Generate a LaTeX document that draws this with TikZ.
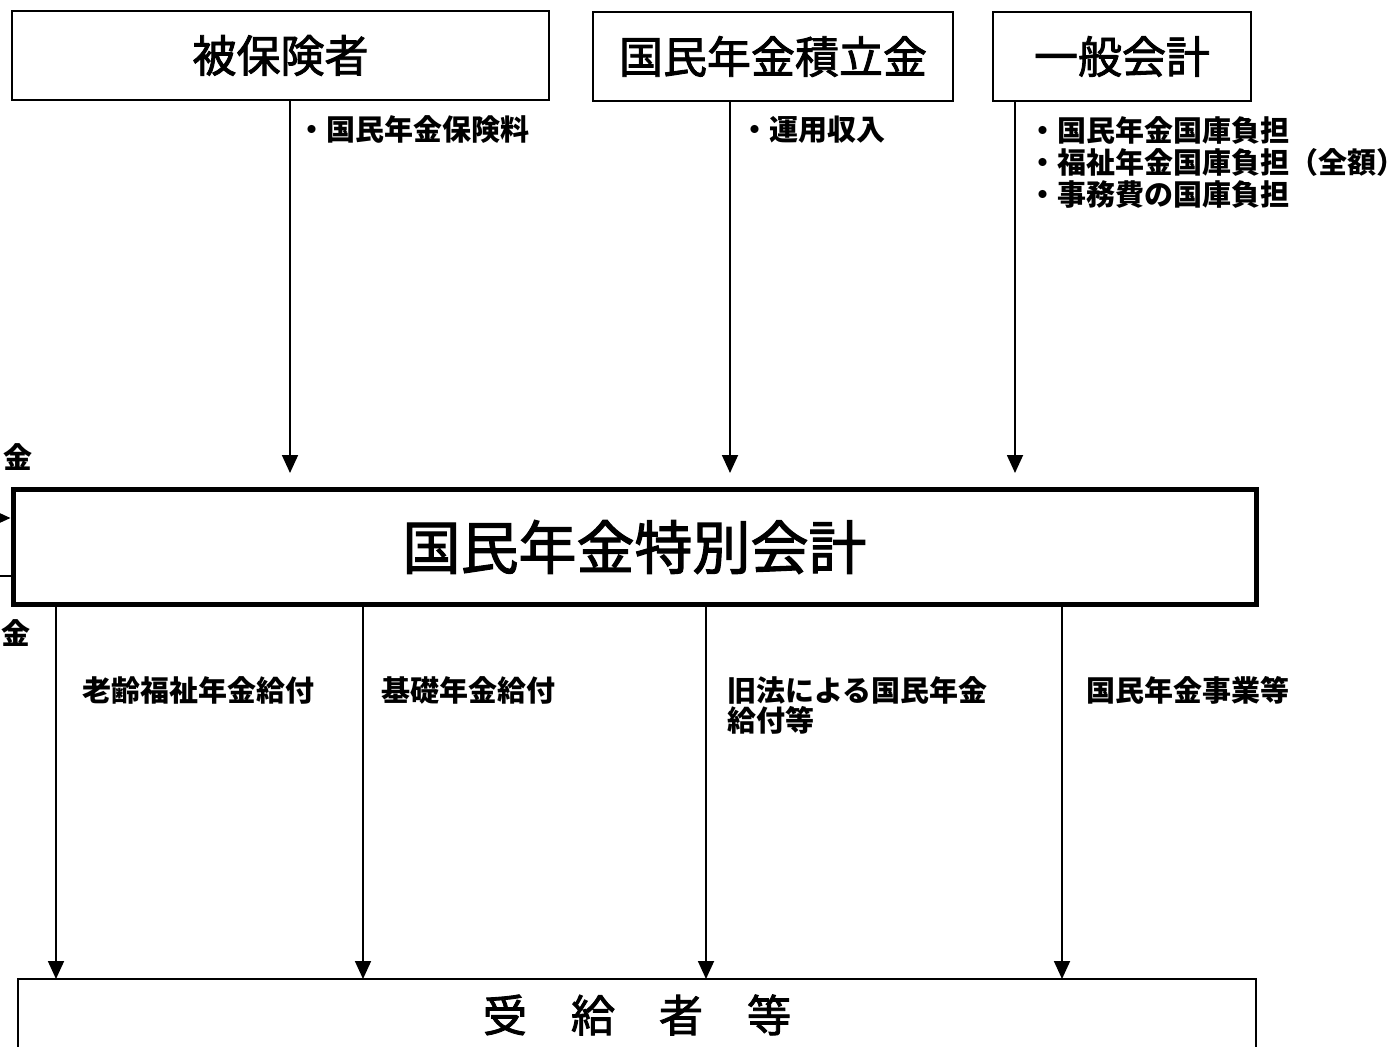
\documentclass[tikz,border=0pt]{standalone}
\usepackage{fontspec}
\setmainfont{Noto Sans CJK JP}
\newfontfamily\jpmed[FakeBold=2]{Noto Sans CJK JP}
\usetikzlibrary{arrows.meta}
\begin{document}
\begin{tikzpicture}[x=1pt,y=-1pt,
  box/.style={draw, line width=1.8pt, inner sep=0pt},
  title/.style={font=\jpmed\fontsize{44}{50}\selectfont},
  lab/.style={font=\bfseries\fontsize{29}{32}\selectfont, anchor=west, align=left, inner sep=0pt},
  arr/.style={line width=1.8pt, -{Triangle[length=18pt,width=16pt]}}]
\useasboundingbox (0,0) rectangle (1396,1046);
\clip (0,0) rectangle (1396,1046);
\fill[white] (0,0) rectangle (1396,1046);
% top boxes
\node[box,title,minimum width=537pt,minimum height=89pt] (hi) at (280.5,55.5) {被保険者};
\node[box,title,minimum width=360pt,minimum height=89pt] (tsumi) at (773,56.5) {国民年金積立金};
\node[box,title,minimum width=258pt,minimum height=89pt] (ippan) at (1122,56.5) {一般会計};
% main box
\node[draw,line width=5pt,minimum width=1243pt,minimum height=115pt,font=\jpmed\fontsize{58}{60}\selectfont] (main) at (634.5,547) {国民年金特別会計};
% bottom box
\node[box,title,minimum width=1238pt,minimum height=72pt] (recv) at (637,1015) {受　給　者　等};
% top arrows
\coordinate (a1) at (290,473);
\coordinate (a2) at (730,473);
\coordinate (a3) at (1015,473);
\draw[arr] (hi.south -| a1) -- (a1);
\draw[arr] (tsumi.south -| a2) -- (a2);
\draw[arr] (ippan.south -| a3) -- (a3);
% bottom arrows
\coordinate (b1) at (56,979);
\coordinate (b2) at (363,979);
\coordinate (b3) at (706,979);
\coordinate (b4) at (1062,979);
\draw[arr] (main.south -| b1) -- (b1);
\draw[arr] (main.south -| b2) -- (b2);
\draw[arr] (main.south -| b3) -- (b3);
\draw[arr] (main.south -| b4) -- (b4);
% left side
\coordinate (l1) at (-20,518);
\coordinate (l2) at (-20,576);
\draw[arr] (l1) -- (main.west |- l1);
\draw[line width=1.8pt] (l2) -- (main.west |- l2);
% labels
\node[lab] (t1) at (297,130) {・国民年金保険料};
\node[lab] (t2) at (740,130) {・運用収入};
\node[lab] (t3) at (1028,162) {・国民年金国庫負担\\・福祉年金国庫負担（全額）\\・事務費の国庫負担};
\node[lab] (u1) at (82,690) {老齢福祉年金給付};
\node[lab] (u2) at (381,690) {基礎年金給付};
\node[lab,font=\bfseries\fontsize{29}{30}\selectfont] (u3) at (727,705) {旧法による国民年金\\給付等};
\node[lab] (u4) at (1086,690) {国民年金事業等};
\node[lab] (k1) at (3,457) {金};
\node[lab] (k2) at (1,633) {金};
\end{tikzpicture}
\end{document}
